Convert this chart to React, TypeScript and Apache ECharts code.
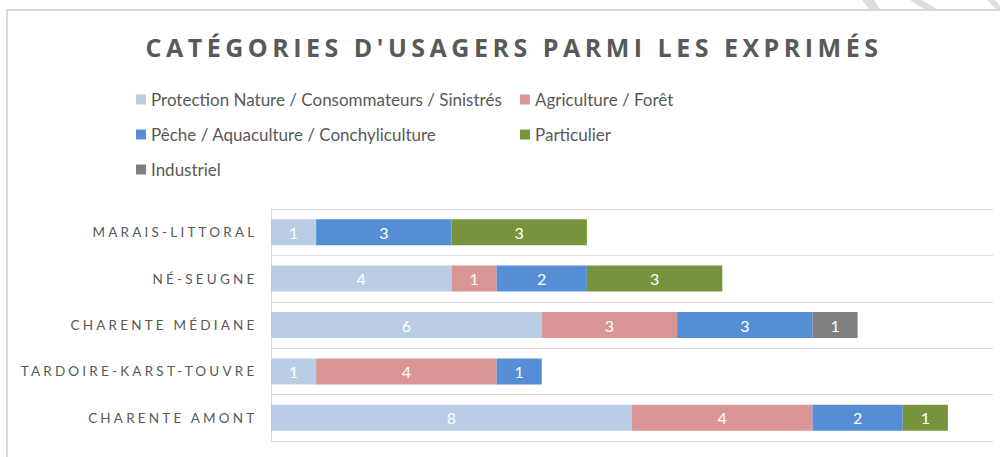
import React, { useEffect, useRef } from "react";
import * as echarts from "echarts";

const titleText = "CATÉGORIES D'USAGERS PARMI LES EXPRIMÉS";
const categories = [
  "MARAIS-LITTORAL",
  "NÉ-SEUGNE",
  "CHARENTE MÉDIANE",
  "TARDOIRE-KARST-TOUVRE",
  "CHARENTE AMONT",
];
const seriesNames = [
  "Protection Nature / Consommateurs / Sinistrés",
  "Agriculture / Forêt",
  "Pêche / Aquaculture / Conchyliculture",
  "Particulier",
  "Industriel",
];
const protectionValues = [1, 4, 6, 1, 8];
const agricultureValues = [null, 1, 3, 4, 4];
const pecheValues = [3, 2, 3, 1, 2];
const particulierValues = [3, 3, null, null, 1];
const industrielValues = [null, null, 1, null, null];
const seriesColors = ["#B9CDE5", "#D99694", "#558ED5", "#77933C", "#7F7F7F"];
const legendPositions = [
  { left: 136, top: 91 },
  { left: 520, top: 91 },
  { left: 136, top: 126 },
  { left: 520, top: 126 },
  { left: 136, top: 161 },
];

export default function App() {
  const ref = useRef<HTMLDivElement>(null);
  useEffect(() => {
    document.body.style.margin = "0";
    const chart = echarts.init(ref.current!, null, { renderer: "svg" });
    const values = [
      protectionValues,
      agricultureValues,
      pecheValues,
      particulierValues,
      industrielValues,
    ];
    chart.setOption({
      animation: false,
      backgroundColor: "#ffffff",
      title: {
        text: titleText,
        left: 509,
        top: 29,
        textAlign: "center",
        textStyle: {
          fontFamily: "Open Sans",
          fontWeight: "bold",
          fontSize: 25,
          color: "#595959",
        },
      },
      legend: seriesNames.map((n, i) => ({
        data: [n],
        left: legendPositions[i].left,
        top: legendPositions[i].top,
        padding: 0,
        icon: "rect",
        itemWidth: 10,
        itemHeight: 10,
        selectedMode: false,
        textStyle: { fontFamily: "Lato", fontSize: 17, color: "#595959" },
      })),
      grid: { left: 271, right: 7, top: 209, bottom: 16, containLabel: false },
      xAxis: {
        type: "value",
        min: 0,
        max: 16,
        show: false,
        splitLine: { show: false },
      },
      yAxis: {
        type: "category",
        data: categories,
        inverse: true,
        axisLine: { show: true, lineStyle: { color: "#D9D9D9", width: 1 } },
        axisTick: { show: false },
        splitLine: { show: true, lineStyle: { color: "#D9D9D9", width: 1 } },
        axisLabel: {
          color: "#595959",
          fontFamily: "Lato",
          fontSize: 13.5,
          margin: 13.5,
        },
      },
      series: seriesNames.map((n, i) => ({
        name: n,
        type: "bar",
        stack: "total",
        barWidth: 26,
        data: values[i],
        itemStyle: { color: seriesColors[i] },
        label: {
          show: true,
          position: "inside",
          color: "#ffffff",
          fontFamily: "Lato",
          fontSize: 16,
        },
      })),
      graphic: [
        {
          type: "rect",
          shape: { x: 7, y: 10, width: 1010, height: 470 },
          style: { fill: "none", stroke: "#D9D9D9", lineWidth: 2 },
          silent: true,
        },
        {
          type: "polygon",
          shape: { points: [[862, 0], [874, 0], [880, 9], [869, 9]] },
          style: { fill: "#DDDDDD" },
          silent: true,
        },
        {
          type: "polygon",
          shape: { points: [[910, 0], [922, 0], [937, 9], [924, 9]] },
          style: { fill: "#DDDDDD" },
          silent: true,
        },
        {
          type: "polygon",
          shape: { points: [[987, 0], [995, 0], [1000, 6], [1000, 9], [996, 9]] },
          style: { fill: "#DDDDDD" },
          silent: true,
        },
      ],
    });
    return () => chart.dispose();
  }, []);
  return (
    <>
      <style>{`
        .chartbox text[style*="13.5px"] { letter-spacing: 3.2px; }
        .chartbox text[style*="25px"] { letter-spacing: 4.5px; }
      `}</style>
      <div className="chartbox" ref={ref} style={{ width: 1000, height: 457 }} />
    </>
  );
}
